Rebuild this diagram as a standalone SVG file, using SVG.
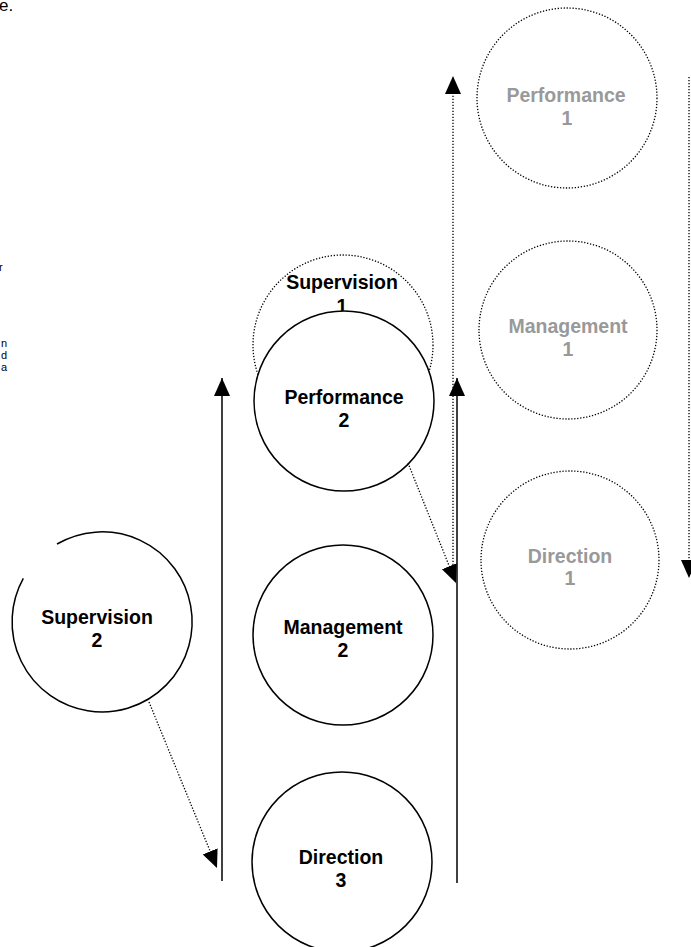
<svg xmlns="http://www.w3.org/2000/svg" width="691" height="947" viewBox="0 0 691 947">
<style>
  .solid { fill: #fff; stroke: #000; stroke-width: 1.5; }
  .dotc { fill: #fff; stroke: #000; stroke-width: 1.3; stroke-dasharray: 1.3 1.7; }
  .lbl { font-family: "Liberation Sans", Arial, sans-serif; font-weight: bold; font-size: 19.5px; text-anchor: middle; fill: #000; }
  .gray { fill: #999999; }
  .body { font-family: "Liberation Sans", Arial, sans-serif; font-size: 11px; fill: #000; }
  .big { font-size: 17px; }
  .line { stroke: #000; stroke-width: 1.5; fill: none; }
  .dline { stroke: #000; stroke-width: 1.3; fill: none; stroke-dasharray: 1.3 1.7; }
</style>
<defs>
  <marker id="ah" markerUnits="userSpaceOnUse" markerWidth="18" markerHeight="18" viewBox="0 0 18 18" refX="18" refY="9" orient="auto">
    <path d="M0,1 L18,9 L0,17 Z" fill="#000"/>
  </marker>
</defs>
<rect width="691" height="947" fill="#fff"/>

<g id="cutoff-text">
  <text class="body big" x="-1" y="11">e.</text>
  <text class="body" x="-1" y="271">r</text>
  <text class="body" x="1" y="347">n</text>
  <text class="body" x="1" y="359">d</text>
  <text class="body" x="1" y="371">a</text>
</g>

<g id="performance1">
  <circle class="dotc" cx="567" cy="98" r="90"/>
  <text class="lbl gray" x="566" y="102">Performance</text>
  <text class="lbl gray" x="567" y="125">1</text>
</g>
<g id="management1">
  <circle class="dotc" cx="568" cy="330" r="89"/>
  <text class="lbl gray" x="568" y="333">Management</text>
  <text class="lbl gray" x="568" y="356">1</text>
</g>
<g id="direction1">
  <circle class="dotc" cx="570" cy="560" r="89"/>
  <text class="lbl gray" x="570" y="563">Direction</text>
  <text class="lbl gray" x="570" y="585">1</text>
</g>
<g id="supervision1">
  <circle class="dotc" cx="343" cy="345" r="90"/>
  <text class="lbl" x="342" y="289">Supervision</text>
  <text class="lbl" x="342" y="313">1</text>
</g>
<g id="performance2">
  <circle class="solid" cx="344" cy="401" r="90"/>
  <text class="lbl" x="344" y="404">Performance</text>
  <text class="lbl" x="344" y="427">2</text>
</g>
<g id="management2">
  <circle class="solid" cx="343" cy="635" r="90"/>
  <text class="lbl" x="343" y="634">Management</text>
  <text class="lbl" x="343" y="657">2</text>
</g>
<g id="direction3">
  <circle class="solid" cx="342" cy="862" r="90"/>
  <text class="lbl" x="341" y="864">Direction</text>
  <text class="lbl" x="341" y="887">3</text>
</g>
<g id="supervision2">
  <path class="line" d="M57,544 A90,90 0 1 1 23.3,578.4"/>
  <text class="lbl" x="97" y="624">Supervision</text>
  <text class="lbl" x="97" y="647">2</text>
</g>

<g id="connectors">
  <line class="line" x1="222" y1="881" x2="222" y2="378" marker-end="url(#ah)"/>
  <line class="line" x1="457" y1="883" x2="457" y2="378" marker-end="url(#ah)"/>
  <line class="dline" x1="453" y1="565" x2="453" y2="76" marker-end="url(#ah)"/>
  <line class="dline" x1="689" y1="77" x2="689" y2="578" marker-end="url(#ah)"/>
  <line class="dline" x1="408" y1="463" x2="456" y2="583" marker-end="url(#ah)"/>
  <line class="dline" x1="149" y1="702" x2="217" y2="868" marker-end="url(#ah)"/>
</g>
</svg>
